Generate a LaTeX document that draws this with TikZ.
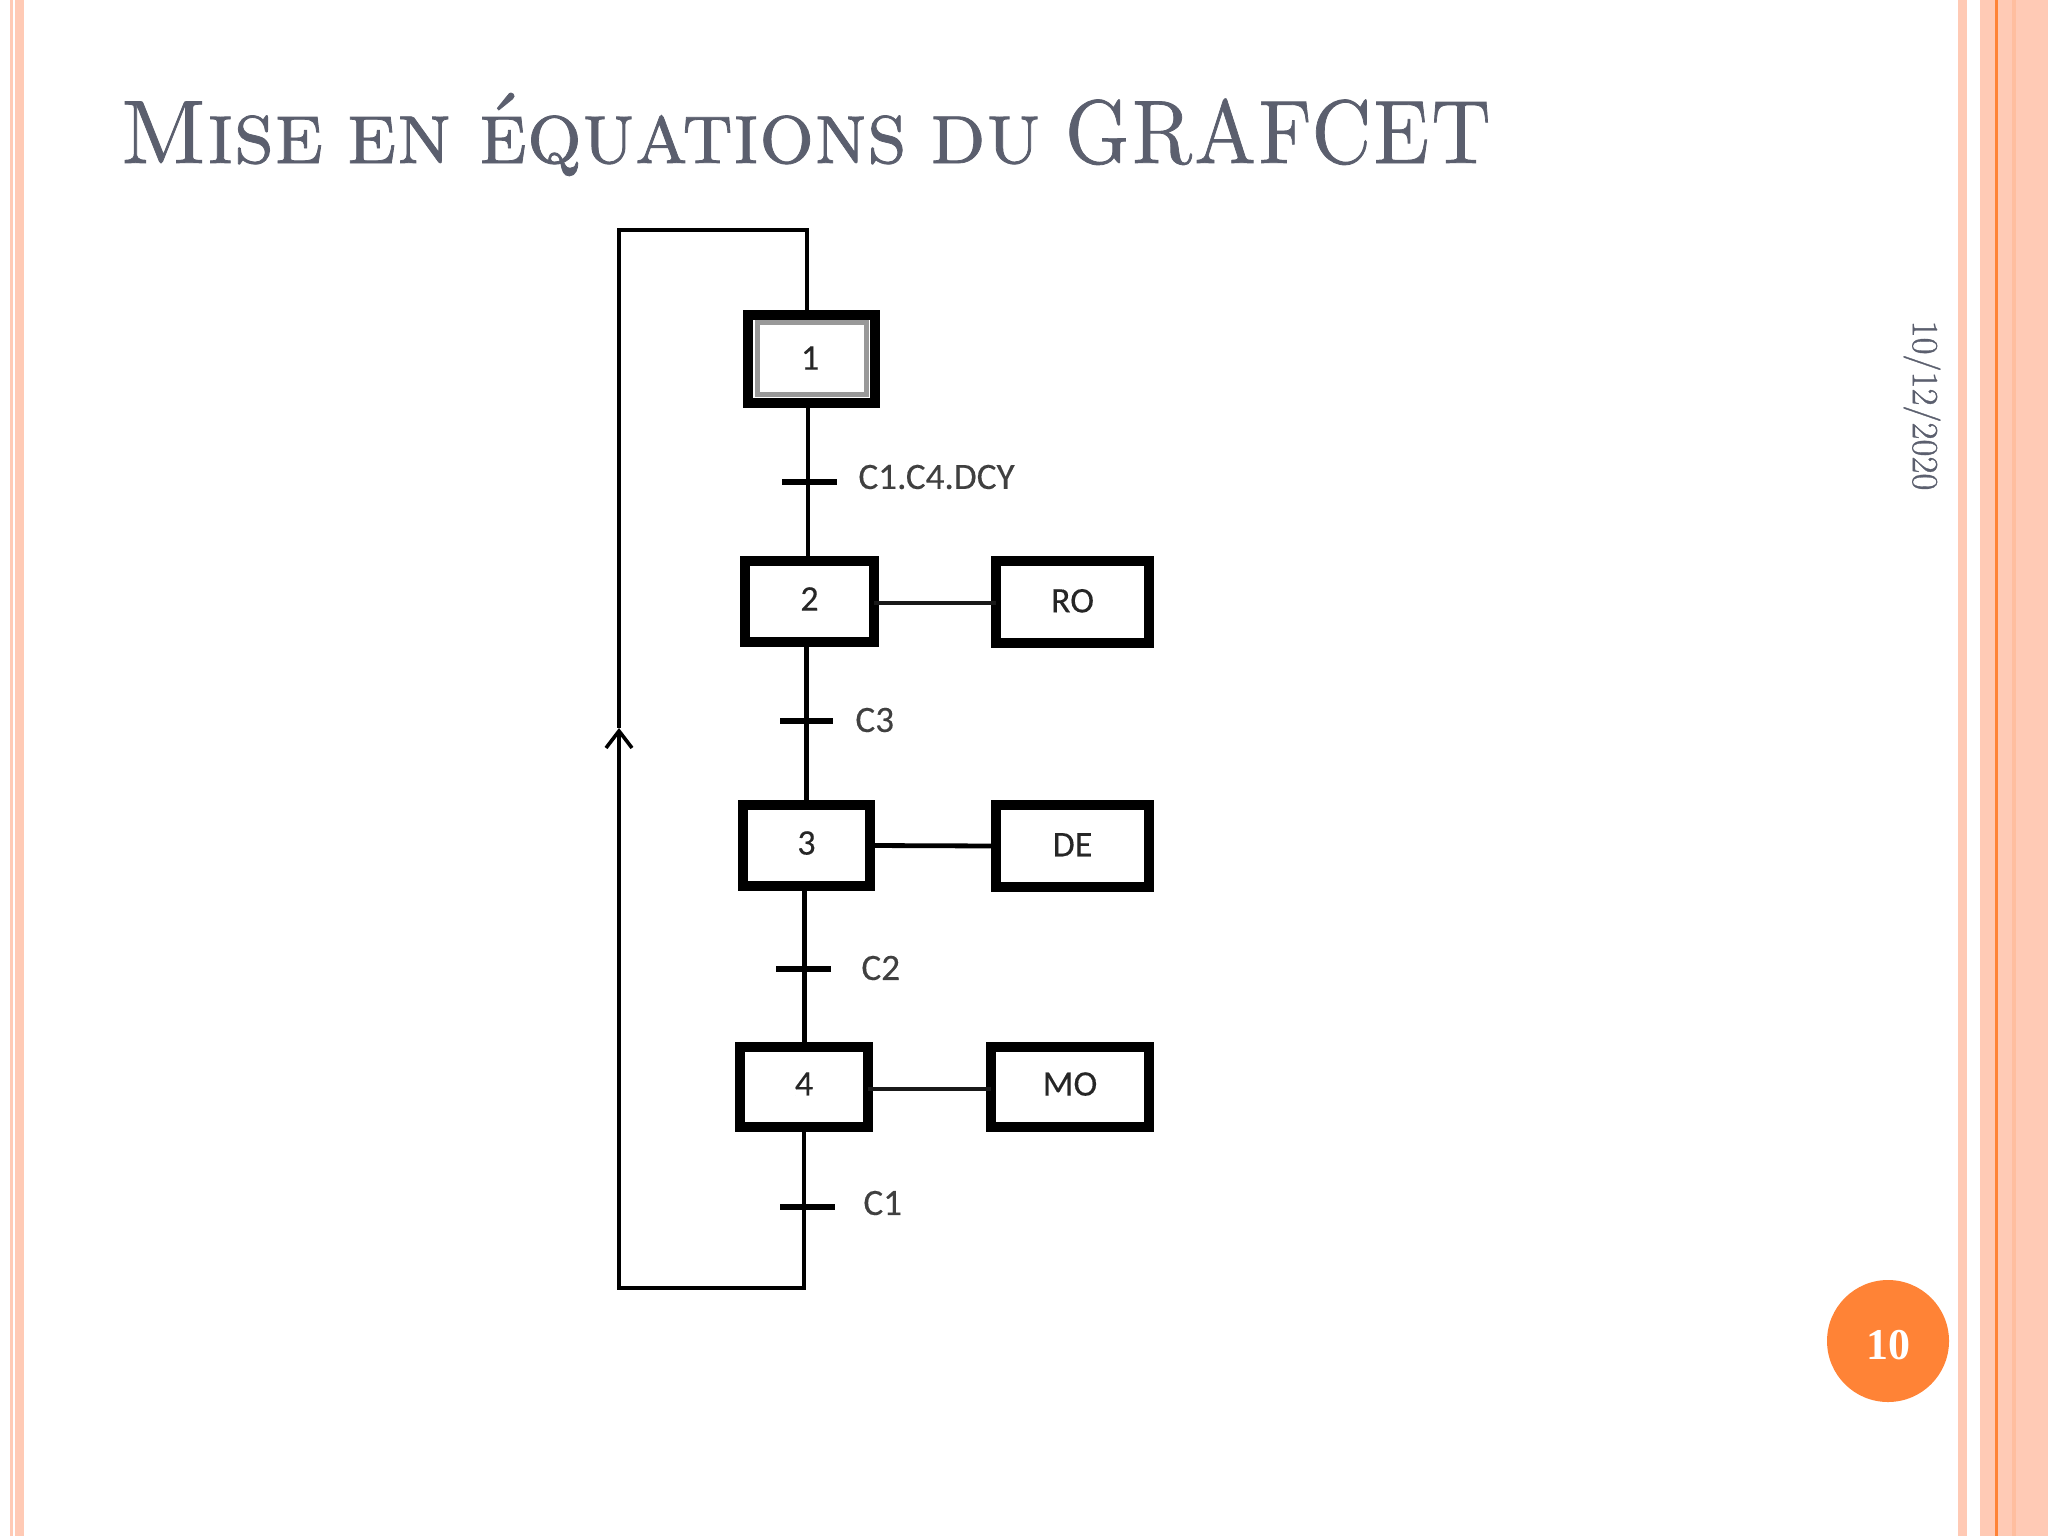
\documentclass[tikz,border=0pt]{standalone}
\usepackage{fontspec}
\usetikzlibrary{arrows.meta}
\newfontfamily\lblfont[FakeBold=0.25]{Carlito}
\newfontfamily\serfont{Liberation Serif}
\newfontfamily\titlefont[FakeBold=0.9,SmallCapsFont={Latin Modern Roman Caps},SmallCapsFeatures={FakeBold=0.9}]{Latin Modern Roman}
\definecolor{peach}{HTML}{FFCAB5}
\definecolor{peachdk}{HTML}{FFBE9F}
\definecolor{tangerine}{HTML}{FF8336}
\definecolor{slate}{HTML}{5B5F6E}
\tikzset{
  stripe/.style={fill=#1,draw=none},
  stepbox/.style={draw=black,line width=5pt,fill=white,inner sep=0pt,outer sep=0pt,font=\lblfont\fontsize{18}{20}\selectfont,text=black!85},
  link/.style={draw=black,line width=2.4pt},
  linkthin/.style={draw=black!90,line width=1.8pt},
  tick/.style={fill=black,inner sep=0pt,outer sep=0pt,minimum height=3pt},
  cond/.style={anchor=west,inner sep=0pt,font=\lblfont\fontsize{18.6}{20}\selectfont,text=black!75}
}
\begin{document}
\begin{tikzpicture}[x=0.5pt,y=-0.5pt]
  \useasboundingbox (0,0) rectangle (2048,1536);
  % stripes
  \fill[white] (0,0) rectangle (2048,1536);
  \fill[stripe=peach] (10,0) rectangle (13,1536);
  \fill[stripe=peach] (15,0) rectangle (24,1536);
  \fill[stripe=peach] (1958,0) rectangle (1967,1536);
  \fill[stripe=peach] (1980,0) rectangle (2048,1536);
  \fill[stripe=tangerine] (1995,0) rectangle (1998,1536);
  \fill[stripe=peachdk] (2012,0) rectangle (2016,1536);
  % title, date, page number
  \node[anchor=base west,inner sep=0pt,text=slate,font=\titlefont\fontsize{45}{50}\selectfont\scshape] (title) at (119.5,163) {\spaceskip=11.5pt\scalebox{.98}[1]{Mise} en \kern2pt\scalebox{.96}[1]{équations} du \scalebox{.87}[1]{GRAFCET}};
  \node[rotate=-90,inner sep=0pt,text=slate,font=\titlefont\fontsize{18.5}{20}\selectfont] (date) at (1922,405.5) {10/12/2020};
  \node[circle,fill=tangerine,minimum size=61pt,inner sep=0pt,text=white,text height=18.8pt,text depth=0pt,font=\serfont\bfseries\fontsize{22}{24}\selectfont] (page) at (1888,1341) {10};
  % steps
  \node[stepbox,minimum width=63.5pt,minimum height=44pt] (1) at (811,358.5) {};
  \node[draw=black!40,line width=2.5pt,fill=white,minimum width=54.5pt,minimum height=36pt,inner sep=0pt,font=\lblfont\fontsize{18}{20}\selectfont,text=black!85] (1i) at (811.5,358) {\kern-1.4pt\raisebox{-1.5pt}{1}};
  \node[stepbox,minimum width=64.5pt,minimum height=40.5pt] (2) at (809.5,601.5) {\raisebox{2.6pt}{2}};
  \node[stepbox,minimum width=63.5pt,minimum height=40.5pt] (3) at (806.5,845.5) {\raisebox{2.6pt}{3}};
  \node[stepbox,minimum width=64pt,minimum height=40pt] (4) at (804,1086.5) {\raisebox{2.6pt}{4}};
  % actions
  \node[stepbox,minimum width=76.5pt,minimum height=41pt] (ro) at (1072.5,602) {\raisebox{1.3pt}{RO}};
  \node[stepbox,minimum width=76.5pt,minimum height=41pt] (de) at (1072.5,846) {\raisebox{1.3pt}{DE}};
  \node[stepbox,minimum width=79pt,minimum height=40pt] (mo) at (1070,1086.5) {\raisebox{2.6pt}{MO}};
  % transitions
  \node[tick,minimum width=27.5pt] (t1) at (809.5,482) {};
  \node[tick,minimum width=26.5pt] (t2) at (806.5,721) {};
  \node[tick,minimum width=27.5pt] (t3) at (803.5,969) {};
  \node[tick,minimum width=27.5pt] (t4) at (807.5,1207) {};
  \node[cond] (c1) at (858,477) {C1.C4.DCY};
  \node[cond] (c2) at (855,720) {C3};
  \node[cond] (c3) at (861,968) {C2};
  \node[cond] (c4) at (863,1203) {C1};
  % loop
  \coordinate (lt) at (807,230);
  \coordinate (ll) at (619,230);
  \coordinate (la) at (619,728);
  \coordinate (bl) at (619,1288);
  \coordinate (br) at (804,1288);
  \begin{scope}[link]
    \draw (lt |- 1.north) -- (lt) -- (ll) -- (la);
    \draw[-{Straight Barb[length=8.5pt,width=13pt,line width=1.8pt]}] (br |- 4.south) -- (br) -- (bl) -- (la);
    \draw ([xshift=-0.75pt]t1 |- 1.south) -- ([xshift=-0.75pt]t1 |- 2.north);
    \draw (t2 |- 2.south) -- (t2 |- 3.north);
    \draw ([xshift=0.5pt]t3 |- 3.south) -- ([xshift=0.5pt]t3 |- 4.north);
  \end{scope}
  \draw[linkthin] ([yshift=-0.75pt]2.east) -- ([yshift=-0.5pt]ro.west);
  \draw[link] (3.east) -- (de.west);
  \draw[linkthin] ([yshift=-1.25pt]4.east) -- ([yshift=-1.25pt]mo.west);
\end{tikzpicture}
\end{document}
